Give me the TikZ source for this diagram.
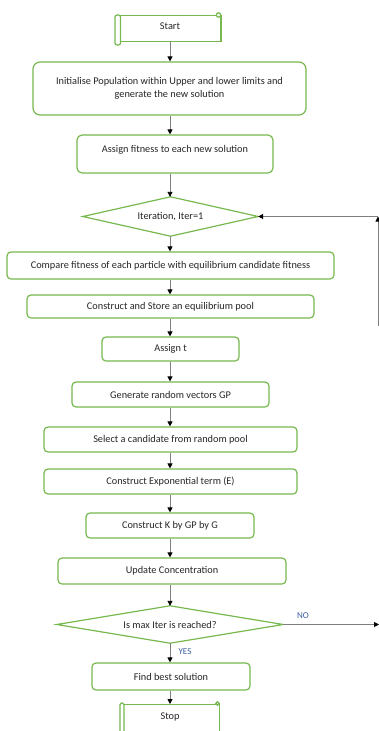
\documentclass[tikz,border=0pt]{standalone}
\usepackage{fontspec}
\setmainfont{Carlito}
\usetikzlibrary{arrows.meta}
\definecolor{boxgreen}{HTML}{77B94F}
\definecolor{linegray}{HTML}{7F7F7F}
\definecolor{txt}{HTML}{262626}
\definecolor{lblblue}{HTML}{3B5FA0}
\tikzset{
  basefont/.style={text=txt, font=\fontsize{10.3}{13}\selectfont},
  stepbox/.style={draw=boxgreen, line width=1.2pt, rounded corners=4pt, fill=white,
    inner sep=0pt, basefont, align=center},
  decision/.style={inner sep=0pt, basefont},
  rhombus/.style={draw=boxgreen, line width=1.2pt, fill=white},
  scroll/.style={draw=boxgreen, line width=1.2pt, fill=white},
  flow/.style={draw=linegray, line width=0.9pt,
    -{Triangle[length=5pt,width=5pt,color=black]}},
  lbl/.style={text=lblblue, font=\fontsize{9}{11}\selectfont},
}
\begin{document}
\begin{tikzpicture}[x=1pt,y=-1pt]
\useasboundingbox (0,0) rectangle (379,731);

% start scroll
\node[scroll, minimum width=101pt, minimum height=26pt, inner sep=0pt] (start) at (170.5,28.5) {};
\draw[scroll, rounded corners=2pt] (115,15) rectangle (120.5,45);
\draw[scroll] (218.5,15) circle (2.2pt);
\node[basefont] (starttxt) at (170,26) {Start};

\node[stepbox, rounded corners=7pt, minimum width=273pt, minimum height=53pt] (init) at (169.5,88.5)
  {Initialise Population within Upper and lower limits and\\generate the new solution};
\node[stepbox, rounded corners=5pt, minimum width=196pt, minimum height=38pt, text depth=10pt] (fit) at (175,154)
  {Assign fitness to each new solution};

% first decision
\node[decision, minimum width=175pt, minimum height=39pt] (iter) at (170.5,216.5) {};
\draw[rhombus] (iter.west) -- (iter.north) -- (iter.east) -- (iter.south) -- cycle;
\node[basefont] (itertxt) at (iter.center) {Iteration, Iter=1};

\node[stepbox, minimum width=327pt, minimum height=27pt] (cmp) at (170.5,265.5)
  {Compare fitness of each particle with equilibrium candidate fitness};
\node[stepbox, minimum width=287pt, minimum height=23pt] (pool) at (170.5,306.5)
  {Construct and Store an equilibrium pool};
\node[stepbox, minimum width=137pt, minimum height=24pt] (asst) at (170.5,349) {Assign t};
\node[stepbox, minimum width=197pt, minimum height=25pt] (gen) at (170.5,394.5) {Generate random vectors GP};
\node[stepbox, minimum width=253pt, minimum height=25pt] (sel) at (170.5,439.5) {Select a candidate from random pool};
\node[stepbox, minimum width=253pt, minimum height=25pt] (expt) at (170.5,481.5) {Construct Exponential term (E)};
\node[stepbox, minimum width=168pt, minimum height=25pt] (kgp) at (170,525.5) {Construct K by GP by G};
\node[stepbox, minimum width=228pt, minimum height=26pt] (upd) at (172,571) {Update Concentration};

% second decision
\node[decision, minimum width=226pt, minimum height=37pt] (maxd) at (170,624.5) {};
\draw[rhombus] (maxd.west) -- (maxd.north) -- (maxd.east) -- (maxd.south) -- cycle;
\node[basefont] (maxtxt) at (maxd.center) {Is max Iter is reached?};

\node[stepbox, minimum width=158pt, minimum height=27pt] (best) at (171,676.5) {Find best solution};

% stop scroll (runs past the lower edge)
\node[scroll, minimum width=99pt, minimum height=32pt, inner sep=0pt, anchor=north west] (stop) at (120,704) {};
\draw[scroll, rounded corners=1.5pt] (120,703) rectangle (124,740);
\draw[scroll] (217.5,703.5) circle (1.8pt);
\node[basefont] (stoptxt) at (170,717) {Stop};

% main spine
\coordinate (spine) at (170,0);
\draw[flow] (start.south -| spine) -- (init.north -| spine);
\draw[flow] (init.south -| spine) -- (fit.north -| spine);
\draw[flow] (fit.south -| spine) -- (iter.north -| spine);
\draw[flow] (iter.south -| spine) -- (cmp.north -| spine);
\draw[flow] (cmp.south -| spine) -- (pool.north -| spine);
\draw[flow] (pool.south -| spine) -- (asst.north -| spine);
\draw[flow] (asst.south -| spine) -- (gen.north -| spine);
\draw[flow] (gen.south -| spine) -- (sel.north -| spine);
\draw[flow] (sel.south -| spine) -- (expt.north -| spine);
\draw[flow] (expt.south -| spine) -- (kgp.north -| spine);
\draw[flow] (kgp.south -| spine) -- (upd.north -| spine);
\draw[flow] (upd.south -| spine) -- (maxd.north -| spine);
\draw[flow] (maxd.south -| spine) -- (best.north -| spine);
\node[lbl] (yeslbl) at (185,652) {YES};
\draw[flow] (best.south -| spine) -- (stop.north -| spine);

% loop back
\coordinate (noend) at (379,624.5);
\coordinate (loopbot) at (378,326);
\coordinate (looptop) at (378,216.5);
\draw[flow] (maxd.east) -- (noend);
\node[lbl] (nolbl) at (303,616) {NO};
\draw[flow] (loopbot) -- (looptop);
\draw[flow] (looptop) -- (iter.east);
\end{tikzpicture}
\end{document}
